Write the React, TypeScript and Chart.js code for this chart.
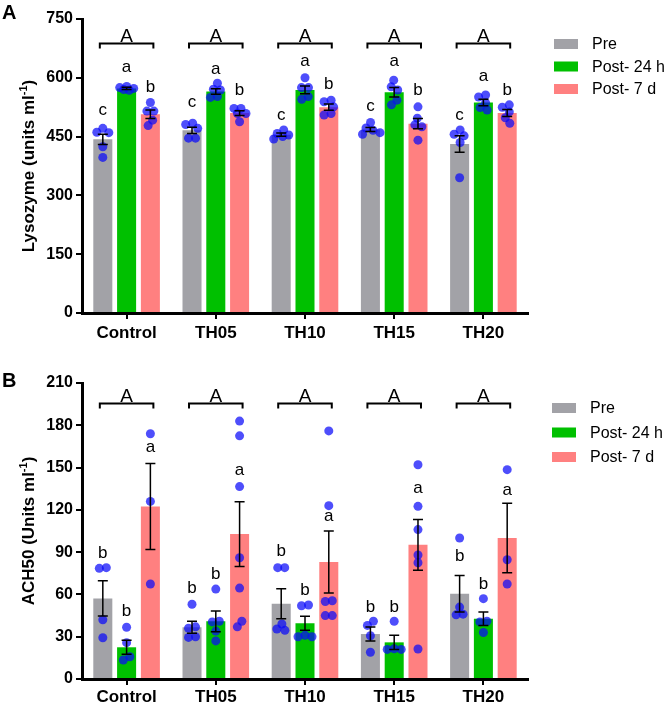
import React, { useEffect, useRef } from "react";
import { Chart, registerables } from "chart.js";

Chart.register(...registerables);

const FONT = "'Liberation Sans', Arial, Helvetica, sans-serif";

const categories = ["Control", "TH05", "TH10", "TH15", "TH20"];
const seriesNames = ["Pre", "Post- 24 h", "Post- 7 d"];
const seriesColors = ["#a2a2a7", "#00c000", "#ff8080"];
const groupLetter = "A";

// ---------- Panel A: Lysozyme ----------
const lysoTicks = { max: 750, step: 150 };
const lysoPreMean = [443, 466, 455, 468, 431];
const lyso24Mean = [573, 565, 569, 563, 537];
const lyso7Mean = [507, 510, 525, 483, 510];
const lysoPreSem = [13, 8, 4, 5, 21];
const lyso24Sem = [3, 7, 10, 12, 8];
const lyso7Sem = [11, 6, 8, 13, 9];
const lysoPrePts = [
  [471, 461, 460, 424, 397],
  [484, 481, 471, 446, 446],
  [467, 458, 454, 450, 444],
  [486, 472, 466, 460, 456],
  [467, 456, 452, 435, 345],
];
const lyso24Pts = [
  [578, 575, 573, 570, 568],
  [586, 571, 569, 552, 550],
  [600, 575, 575, 552, 545],
  [594, 577, 569, 543, 531],
  [556, 551, 536, 524, 518],
];
const lyso7Pts = [
  [537, 515, 515, 492, 478],
  [522, 522, 509, 509, 488],
  [543, 539, 526, 509, 505],
  [526, 497, 480, 475, 441],
  [531, 525, 513, 498, 484],
];
const lysoLetters = ["c", "a", "b"];
const lysoPreLetterAt = [515, 536, 502, 526, 503];
const lyso24LetterAt = [624, 620, 641, 641, 601];
const lyso7LetterAt = [579, 571, 586, 571, 571];
const lysoBracketAt = 689;

// ---------- Panel B: ACH50 ----------
const achTicks = { max: 210, step: 30 };
const achPreMean = [57.2, 36.7, 53.4, 31.9, 60.5];
const ach24Mean = [22.5, 40.9, 39.5, 26, 42.8];
const ach7Mean = [122.3, 102.8, 83, 95.2, 100];
const achPreSem = [12.5, 4.3, 10.6, 5, 13];
const ach24Sem = [5, 7.3, 5, 5, 4.8];
const ach7Sem = [30.5, 23, 22, 18, 24.6];
const achPrePts = [
  [79, 78.5, 42, 29.3],
  [53, 37, 36, 30, 29.5],
  [79, 79, 39, 35.5, 34.5],
  [41, 38, 30.7, 19],
  [100, 51, 46, 45.5],
];
const ach24Pts = [
  [36.7, 25.8, 15.8, 13.5],
  [63.8, 41, 40.5, 34, 27],
  [52.5, 52, 31, 30, 30],
  [41, 21.5, 21, 21],
  [57, 41, 40.5, 33],
];
const ach7Pts = [
  [174, 126, 67.4],
  [183, 172.5, 136.5, 86, 64.5, 41, 37],
  [176, 123, 55.5, 55, 45, 45],
  [152, 122.5, 106, 88, 82.5, 21.3],
  [148.5, 84.6, 67.4],
];
const achLetters = ["b", "b", "a"];
const achPreLetterAt = [89.8, 65, 91.5, 52, 88];
const ach24LetterAt = [48.7, 75.4, 63.6, 52, 68.3];
const ach7LetterAt = [163.7, 147.8, 114.7, 134.6, 133.6];
const achBracketAt = 195.6;

type Series = { mean: number[]; sem: number[]; pts: number[][]; letter: string; letterAt: number[] };
type Spec = {
  label: string;
  titleMain: string;
  titleSup: string;
  yMax: number;
  yStep: number;
  series: Series[];
  bracketAt: number;
  canvasH: number;
  chartTop: number;
  chartBottom: number;
  xPad: number;
  labelBaseline: number;
  legendFirst: number;
  legendGap: number;
  legendBoxX: number;
  legendTextX: number;
};

const specA: Spec = {
  label: "A",
  titleMain: "Lysozyme (units ml",
  titleSup: "-1",
  yMax: lysoTicks.max,
  yStep: lysoTicks.step,
  series: [
    { mean: lysoPreMean, sem: lysoPreSem, pts: lysoPrePts, letter: lysoLetters[0], letterAt: lysoPreLetterAt },
    { mean: lyso24Mean, sem: lyso24Sem, pts: lyso24Pts, letter: lysoLetters[1], letterAt: lyso24LetterAt },
    { mean: lyso7Mean, sem: lyso7Sem, pts: lyso7Pts, letter: lysoLetters[2], letterAt: lyso7LetterAt },
  ],
  bracketAt: lysoBracketAt,
  canvasH: 352,
  chartTop: 19,
  chartBottom: 313,
  xPad: 4,
  labelBaseline: 19,
  legendFirst: 44,
  legendGap: 22.5,
  legendBoxX: 554,
  legendTextX: 592,
};

const specB: Spec = {
  label: "B",
  titleMain: "ACH50 (Units ml",
  titleSup: "-1",
  yMax: achTicks.max,
  yStep: achTicks.step,
  series: [
    { mean: achPreMean, sem: achPreSem, pts: achPrePts, letter: achLetters[0], letterAt: achPreLetterAt },
    { mean: ach24Mean, sem: ach24Sem, pts: ach24Pts, letter: achLetters[1], letterAt: ach24LetterAt },
    { mean: ach7Mean, sem: ach7Sem, pts: ach7Pts, letter: achLetters[2], letterAt: ach7LetterAt },
  ],
  bracketAt: achBracketAt,
  canvasH: 352,
  chartTop: 31,
  chartBottom: 327,
  xPad: 2,
  labelBaseline: 35,
  legendFirst: 56,
  legendGap: 24.5,
  legendBoxX: 552,
  legendTextX: 590,
};

function swarm(ys: number[], sep: number, maxOff: number): number[] {
  const order = ys.map((_, i) => i).sort((a, b) => ys[a] - ys[b]);
  const xs = new Array(ys.length).fill(0);
  const placed: number[] = [];
  for (const i of order) {
    let bestX = 0;
    let bestD = -1;
    for (let k = 0; ; k++) {
      const cand = (k % 2 === 0 ? 1 : -1) * Math.ceil(k / 2) * 0.5;
      if (Math.abs(cand) > maxOff) break;
      let minD = Infinity;
      for (const p of placed) {
        const d = Math.hypot(cand - xs[p], ys[i] - ys[p]);
        if (d < minD) minD = d;
      }
      if (minD >= sep) {
        bestX = cand;
        bestD = minD;
        break;
      }
      if (minD > bestD) {
        bestD = minD;
        bestX = cand;
      }
    }
    xs[i] = bestX;
    placed.push(i);
  }
  // center connected clusters
  const comp = new Array(ys.length).fill(-1);
  let c = 0;
  for (let i = 0; i < ys.length; i++) {
    if (comp[i] >= 0) continue;
    const stack = [i];
    comp[i] = c;
    while (stack.length) {
      const a = stack.pop()!;
      for (let b = 0; b < ys.length; b++) {
        if (comp[b] < 0 && Math.abs(ys[a] - ys[b]) < sep) {
          comp[b] = c;
          stack.push(b);
        }
      }
    }
    c++;
  }
  for (let k = 0; k < c; k++) {
    const idx = xs.map((_, i) => i).filter((i) => comp[i] === k);
    const m = idx.reduce((s, i) => s + xs[i], 0) / idx.length;
    idx.forEach((i) => (xs[i] -= m));
  }
  return xs;
}

function makeOverlay(spec: Spec) {
  return {
    id: "overlay",
    afterDatasetsDraw(chart: any) {
      const ctx: CanvasRenderingContext2D = chart.ctx;
      const ys = chart.scales.y;
      const metas = spec.series.map((_, i) => chart.getDatasetMeta(i));
      ctx.save();
      // dots
      ctx.fillStyle = "rgba(10,10,250,0.72)";
      spec.series.forEach((s, i) => {
        metas[i].data.forEach((bar: any, j: number) => {
          const py = s.pts[j].map((v) => ys.getPixelForValue(v));
          const off = swarm(py, 7, 10);
          py.forEach((y, k) => {
            ctx.beginPath();
            ctx.arc(bar.x + off[k], y, 4.5, 0, Math.PI * 2);
            ctx.fill();
          });
        });
      });
      // error bars
      ctx.strokeStyle = "#000";
      ctx.lineWidth = 1.5;
      spec.series.forEach((s, i) => {
        metas[i].data.forEach((bar: any, j: number) => {
          const x = bar.x;
          const yt = ys.getPixelForValue(s.mean[j] + s.sem[j]);
          const yb = ys.getPixelForValue(s.mean[j] - s.sem[j]);
          ctx.beginPath();
          ctx.moveTo(x, yt);
          ctx.lineTo(x, yb);
          ctx.moveTo(x - 5, yt);
          ctx.lineTo(x + 5, yt);
          ctx.moveTo(x - 5, yb);
          ctx.lineTo(x + 5, yb);
          ctx.stroke();
        });
      });
      // letters
      ctx.fillStyle = "#000";
      ctx.font = `17px ${FONT}`;
      ctx.textAlign = "center";
      ctx.textBaseline = "alphabetic";
      spec.series.forEach((s, i) => {
        metas[i].data.forEach((bar: any, j: number) => {
          const y = ys.getPixelForValue(s.letterAt[j]);
          ctx.fillText(s.letter, bar.x, y + (s.letter === "b" ? 6 : 4));
        });
      });
      // brackets
      const by = Math.round(ys.getPixelForValue(spec.bracketAt)) + 0.5;
      ctx.lineWidth = 2;
      ctx.font = `19px ${FONT}`;
      metas[0].data.forEach((bar: any, j: number) => {
        const x1 = bar.x - 3;
        const x2 = metas[2].data[j].x + 3;
        ctx.beginPath();
        ctx.moveTo(x1, by + 5);
        ctx.lineTo(x1, by);
        ctx.lineTo(x2, by);
        ctx.lineTo(x2, by + 5);
        ctx.stroke();
        ctx.fillText(groupLetter, (x1 + x2) / 2, by - 2);
      });
      ctx.restore();
    },
    afterDraw(chart: any) {
      const ctx: CanvasRenderingContext2D = chart.ctx;
      const area = chart.chartArea;
      ctx.save();
      ctx.fillStyle = "#000";
      // panel label
      ctx.font = `bold 20px ${FONT}`;
      ctx.textAlign = "left";
      ctx.textBaseline = "alphabetic";
      ctx.fillText(spec.label, 2, spec.labelBaseline);
      // y-axis title with superscript
      const cy = (area.top + area.bottom) / 2;
      ctx.translate(34, cy);
      ctx.rotate(-Math.PI / 2);
      const mainFont = `bold 17px ${FONT}`;
      const supFont = `bold 11px ${FONT}`;
      ctx.font = mainFont;
      const w1 = ctx.measureText(spec.titleMain).width;
      const w3 = ctx.measureText(")").width;
      ctx.font = supFont;
      const w2 = ctx.measureText(spec.titleSup).width;
      let x = -(w1 + w2 + w3) / 2;
      ctx.font = mainFont;
      ctx.fillText(spec.titleMain, x, 0);
      x += w1;
      ctx.font = supFont;
      ctx.fillText(spec.titleSup, x, -7);
      x += w2;
      ctx.font = mainFont;
      ctx.fillText(")", x, 0);
      ctx.setTransform(1, 0, 0, 1, 0, 0);
      // legend
      ctx.font = `16px ${FONT}`;
      ctx.textBaseline = "middle";
      chart.data.datasets.forEach((ds: any, i: number) => {
        const ry = spec.legendFirst + i * spec.legendGap;
        ctx.fillStyle = ds.backgroundColor;
        ctx.fillRect(spec.legendBoxX, ry - 5, 24, 10);
        ctx.fillStyle = "#000";
        ctx.fillText(ds.label, spec.legendTextX, ry + 1);
      });
      ctx.restore();
    },
  };
}

function Panel({ spec, top }: { spec: Spec; top: number }) {
  const ref = useRef<HTMLCanvasElement | null>(null);
  useEffect(() => {
    if (!ref.current) return;
    const chart = new Chart(ref.current, {
      type: "bar",
      data: {
        labels: categories,
        datasets: spec.series.map((s, i) => ({
          label: seriesNames[i],
          data: s.mean,
          backgroundColor: seriesColors[i],
          borderWidth: 0,
          categoryPercentage: 0.8,
          barPercentage: 0.8,
        })),
      },
      options: {
        responsive: false,
        animation: false,
        devicePixelRatio: 1,
        layout: { padding: { left: 0, top: spec.chartTop, right: 666 - 528, bottom: 0 } },
        plugins: { legend: { display: false }, tooltip: { enabled: false } },
        scales: {
          x: {
            grid: {
              display: true,
              drawOnChartArea: false,
              drawTicks: true,
              tickLength: 6,
              offset: false,
              color: "#000",
              lineWidth: 2,
            },
            border: { display: true, color: "#000", width: 3 },
            ticks: { color: "#000", font: { family: FONT, size: 17, weight: "bold" }, padding: spec.xPad, maxRotation: 0 },
            afterFit: (s: any) => {
              s.height = spec.canvasH - spec.chartBottom;
            },
          },
          y: {
            min: 0,
            max: spec.yMax,
            ticks: { stepSize: spec.yStep, color: "#000", font: { family: FONT, size: 16, weight: "bold" }, padding: 3 },
            grid: {
              display: true,
              drawOnChartArea: false,
              drawTicks: true,
              tickLength: 6,
              color: "#000",
              lineWidth: 2,
            },
            border: { display: true, color: "#000", width: 3 },
            afterFit: (s: any) => {
              s.width = 82;
            },
          },
        },
      } as any,
      plugins: [makeOverlay(spec) as any],
    });
    return () => chart.destroy();
  }, [spec]);
  return (
    <canvas
      ref={ref}
      width={666}
      height={spec.canvasH}
      style={{ position: "absolute", left: 0, top, width: 666, height: spec.canvasH }}
    />
  );
}

export default function App() {
  return (
    <div style={{ position: "fixed", left: 0, top: 0, width: 666, height: 704, background: "#fff" }}>
      <Panel spec={specA} top={0} />
      <Panel spec={specB} top={352} />
    </div>
  );
}
